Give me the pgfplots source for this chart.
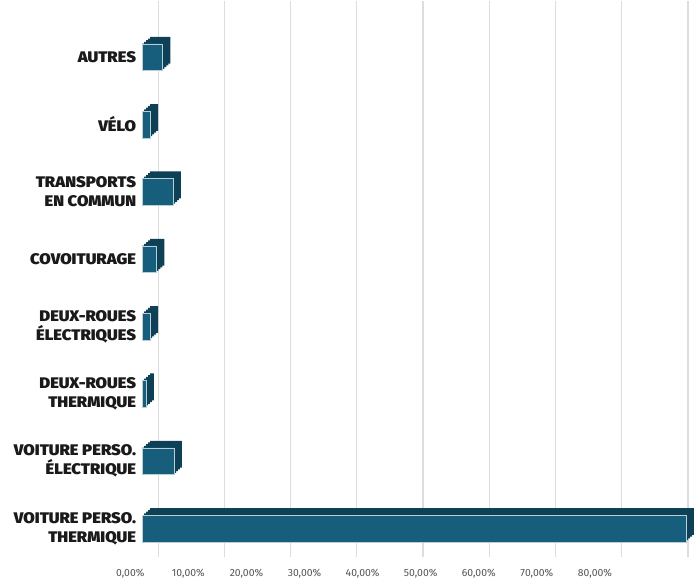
\documentclass[border=0pt]{standalone}
\usepackage{pgfplots}
\pgfplotsset{compat=1.18}
\usepackage{fontspec}
\setmainfont{Fira Sans}
\newfontfamily\lblfont{Fira Sans}[UprightFont=* Black, BoldFont=* Black, FakeStretch=1.08]
\definecolor{barfront}{HTML}{175E7C}
\definecolor{barside}{HTML}{0E4156}
\definecolor{gridgray}{HTML}{DDDDDD}
\definecolor{lbl}{HTML}{1A1A1A}
\definecolor{ticklbl}{HTML}{555555}
\pgfplotstableread{
pos value
0 82.1
1 4.8
2 0.55
3 1.2
4 2.15
5 4.65
6 1.2
7 3.05
}\modaldata
\begin{document}
\begin{tikzpicture}
\begin{axis}[
  x=6.66bp, y=67.7bp,
  xmin=0, xmax=82.7,
  ymin=-0.43, ymax=7.84,
  axis line style={draw=none},
  major tick length=0pt,
  xtick={0,10,20,30,40,50,60,70,80},
  xticklabels={{0,00\%},{10,00\%},{20,00\%},{30,00\%},{40,00\%},{50,00\%},{60,00\%},{70,00\%},{80,00\%}},
  xticklabel style={font=\fontsize{10.5}{12}\selectfont, text=ticklbl, xshift={(-12-8.2*\ticknum)*1bp}, yshift=-8bp},
  xmajorgrids=true,
  major grid style={draw=gridgray, line width=1.2bp, xshift=16bp},
  ytick={0,...,7},
  yticklabels={{VOITURE PERSO.\\THERMIQUE},{VOITURE PERSO.\\ÉLECTRIQUE},{DEUX-ROUES\\THERMIQUE},{DEUX-ROUES\\ÉLECTRIQUES},{COVOITURAGE},{TRANSPORTS\\EN COMMUN},{VÉLO},{AUTRES}},
  yticklabel style={align=right, font=\lblfont\fontsize{15.5}{19}\selectfont, text=lbl, inner sep=0pt, xshift=-6bp},
  clip=false,
  xbar, bar width=27bp, bar shift=0pt,
]
\addplot[fill=barside, draw=none, xshift=8bp, yshift=7bp, bar shift=0pt] table[x=value, y=pos] {\modaldata};
\addplot[fill=barside, draw=none, xshift=6bp, yshift=5.25bp, bar shift=0pt] table[x=value, y=pos] {\modaldata};
\addplot[fill=barside, draw=none, xshift=4bp, yshift=3.5bp, bar shift=0pt] table[x=value, y=pos] {\modaldata};
\addplot[fill=barside, draw=none, xshift=2bp, yshift=1.75bp, bar shift=0pt] table[x=value, y=pos] {\modaldata};
\addplot[fill=barfront, draw=white!70!barfront, line width=0.4bp, bar shift=0pt] table[x=value, y=pos] {\modaldata};
\end{axis}
\path (-143bp,0) ++(0,0);
\end{tikzpicture}
\end{document}
